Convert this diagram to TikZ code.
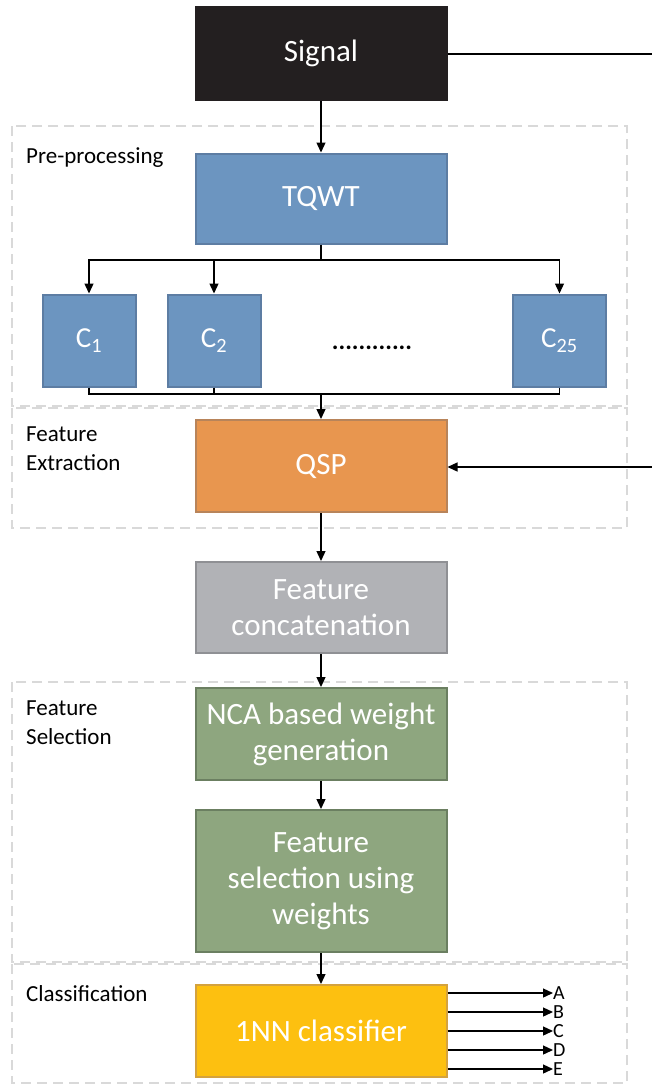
\documentclass[tikz,border=0pt]{standalone}
\usepackage{fontspec}
\setmainfont{Carlito}
\usetikzlibrary{arrows.meta,positioning}
\definecolor{sigfill}{HTML}{231F20}
\definecolor{bluefill}{HTML}{6C95C0}
\definecolor{blueedge}{HTML}{5D7DA3}
\definecolor{orfill}{HTML}{E8964F}
\definecolor{oredge}{HTML}{B8845A}
\definecolor{grfill}{HTML}{B1B2B6}
\definecolor{gredge}{HTML}{8F9094}
\definecolor{gnfill}{HTML}{8EA67F}
\definecolor{gnedge}{HTML}{6B7F61}
\definecolor{yefill}{HTML}{FDC010}
\definecolor{yeedge}{HTML}{D4A23E}
\definecolor{dashgray}{HTML}{D9D9D9}
\tikzset{
  x=1pt, y=-1pt,
  box/.style={draw, line width=2pt, minimum width=251pt, text=white, align=center,
    font=\fontsize{31}{36}\selectfont, inner sep=0pt},
  cbox/.style={draw=blueedge, fill=bluefill, line width=2pt, minimum width=93pt,
    minimum height=92pt, text=white, font=\fontsize{29}{34}\selectfont, inner sep=0pt},
  region/.style={draw=dashgray, line width=2.4pt, dash pattern=on 10pt off 6pt},
  stage/.style={anchor=base west, align=left, font=\fontsize{23}{29}\selectfont, inner sep=0pt},
  conn/.style={line width=1.3pt, draw=black},
  arr/.style={conn, -{Triangle[length=10pt,width=9pt]}},
}
\begin{document}
\begin{tikzpicture}
\useasboundingbox (0,0) rectangle (651,1085);

% stage frames
\draw[region] (12,126) rectangle (627,406);
\draw[region] (12,408) rectangle (627,528);
\draw[region] (12,682) rectangle (627,962);
\draw[region] (12,964) rectangle (627,1083);

% stage titles (base anchor sits on the last line)
\node[stage] (lpre) at (26,163) {Pre-processing};
\node[stage] (lfe) at (26,470) {Feature\\Extraction};
\node[stage] (lfs) at (26,744) {Feature\\Selection};
\node[stage] (lcl) at (26,1001) {Classification};

% main chain
\node[box, draw=sigfill, fill=sigfill, minimum height=93pt] (sig) at (321,53.5) {Signal};
\node[box, draw=blueedge, fill=bluefill, minimum height=90pt] (tqwt) at (321,198.5) {TQWT};
\node[cbox] (c1) at (89,340.5) {C$_{\mathrm{1}}$};
\node[cbox] (c2) at (214,340.5) {C$_{\mathrm{2}}$};
\node[cbox] (c25) at (559.5,340.5) {C$_{\mathrm{25}}$};
\node[anchor=base, font=\fontsize{25}{30}\selectfont, inner sep=0pt] (dots) at (372,349) {\textbf{............}};
\node[box, draw=oredge, fill=orfill, minimum height=92pt] (qsp) at (321,466) {QSP};
\node[box, draw=gredge, fill=grfill, minimum height=91pt] (fc) at (321,607.5) {Feature\\concatenation};
\node[box, draw=gnedge, fill=gnfill, minimum height=92pt] (nca) at (321,734) {NCA based weight\\generation};
\node[box, draw=gnedge, fill=gnfill, minimum height=142pt] (fsel) at (321,881) {Feature\\selection using\\weights};
\node[box, draw=yeedge, fill=yefill, minimum height=92pt] (knn) at (321,1031) {1NN classifier};

% signal to TQWT
\draw[arr] (sig.south) -- (tqwt.north);

% TQWT fan-out to sub-bands
\coordinate (split) at (321,260);
\draw[conn] (tqwt.south) -- (split);
\draw[arr] (split) -| (c1.north);
\draw[arr] (split) -| (c2.north);
\draw[arr] (split) -| (c25.north);

% sub-bands gathered into QSP
\coordinate (join) at (321,394);
\draw[conn] (c1.south) |- (join);
\draw[conn] (c2.south) |- (join);
\draw[conn] (c25.south) |- (join);
\draw[arr] (join) -- (qsp.north);

% raw signal bypass into QSP, routed past the right edge
\coordinate (rt) at (670,54);
\coordinate (rb) at (670,467);
\draw[conn] (sig.east |- rt) -- (rt) -- (rb);
\draw[arr] (rb) -- (qsp.east |- rb);

\draw[arr] (qsp.south) -- (fc.north);
\draw[arr] (fc.south) -- (nca.north);
\draw[arr] (nca.south) -- (fsel.north);
\draw[arr] (fsel.south) -- (knn.north);

% class outputs
\foreach \lab/\yy in {A/993,B/1012,C/1031,D/1050,E/1069}{
  \node[anchor=west, inner sep=0pt, font=\fontsize{20}{20}\selectfont] (out\lab) at (553,\yy) {\lab};
  \draw[arr] (knn.east |- out\lab.west) -- (out\lab.west);
}
\end{tikzpicture}
\end{document}
